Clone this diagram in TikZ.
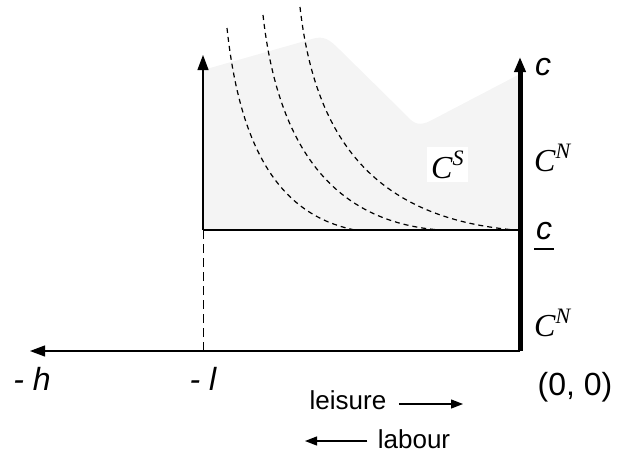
\documentclass[tikz,border=0pt]{standalone}
\usepackage{fontspec}
\setmainfont{Liberation Sans}
\newfontfamily\serifC{Liberation Serif}
\usetikzlibrary{arrows.meta, positioning}

\definecolor{shadegray}{RGB}{244,244,244}
\tikzset{
  axislbl/.style={font=\fontsize{32}{36}\selectfont\itshape, anchor=base},
  curvelbl/.style={font=\serifC\fontsize{32}{34}\selectfont\itshape, anchor=base west, inner sep=4pt},
  dirlbl/.style={font=\fontsize{26}{30}\selectfont, anchor=base},
  indiff/.style={dash pattern=on 5pt off 4pt, line width=1.2pt},
  dirarrow/.style={-{Triangle[length=12pt, width=9pt]}, line width=1.2pt}
}
\newcommand{\supC}[1]{C\raisebox{0.4em}{\fontsize{22}{22}\selectfont #1}}

\begin{document}
\begin{tikzpicture}[x=1pt, y=-1pt, >={Triangle[length=15pt, width=11pt]}]
  \useasboundingbox (0,0) rectangle (617,452);

  % shaded area
  \fill[shadegray] (203,230) -- (203,70) -- (312,39)
    .. controls (324,35) and (330,40) .. (340,50) -- (408,117)
    .. controls (414,124) and (420,126) .. (430,121) -- (518,75)
    -- (518,230) -- cycle;

  % corner points
  \coordinate (O) at (520,351);
  \coordinate (Ctop) at (520,57);
  \coordinate (Htip) at (30,351);
  \coordinate (L) at (203,351);
  \coordinate (Lbar) at (203,230);
  \coordinate (Ltop) at (203,55);
  \coordinate (Cbar) at (520,230);

  % indifference curves
  \draw[indiff] (227,28) .. controls (240,150) and (280,215) .. (355,230);
  \draw[indiff] (263,15) .. controls (278,150) and (335,222) .. (440,230);
  \draw[indiff] (300,7) .. controls (315,140) and (375,218) .. (515,230);

  % axes
  \draw[->, line width=1.2pt] (O) -- (Htip);
  \draw[->, line width=5pt] (O) -- (Ctop);
  \draw[->, line width=1.2pt] (Lbar) -- (Ltop);
  \draw[dash pattern=on 9pt off 5pt, line width=1pt] (L) -- (Lbar);
  \draw[line width=1.2pt] (Lbar) -- (Cbar);

  % labels
  \node[axislbl] (ctop) at (543,75) {c};
  \node[axislbl] (clow) at (544,239) {c};
  \draw[line width=2pt] ([shift={(-10pt,-10pt)}]clow.base) -- ([shift={(10pt,-10pt)}]clow.base);
  \node[axislbl] (hlbl) at (32,390) {- h};
  \node[axislbl] (llbl) at (203,390) {- l};
  \node[axislbl, font=\fontsize{32}{36}\selectfont] (origin) at (575,395) {(0, 0)};

  \node[curvelbl] (cn1) at (530,171) {\supC{N}};
  \node[curvelbl] (cn2) at (530,336) {\supC{N}};
  \node[curvelbl, fill=white] (cs) at (427,178) {\supC{S}\hspace{8pt}};

  % directions
  \node[dirlbl] (leis) at (348,409) {leisure};
  \coordinate (leisend) at (463,404);
  \draw[dirarrow] ([xshift=9pt]leis.east |- leisend) -- (leisend);
  \node[dirlbl] (lab) at (414,448) {labour};
  \coordinate (labend) at (305,441);
  \draw[dirarrow] ([xshift=-7pt]lab.west |- labend) -- (labend);
\end{tikzpicture}
\end{document}
